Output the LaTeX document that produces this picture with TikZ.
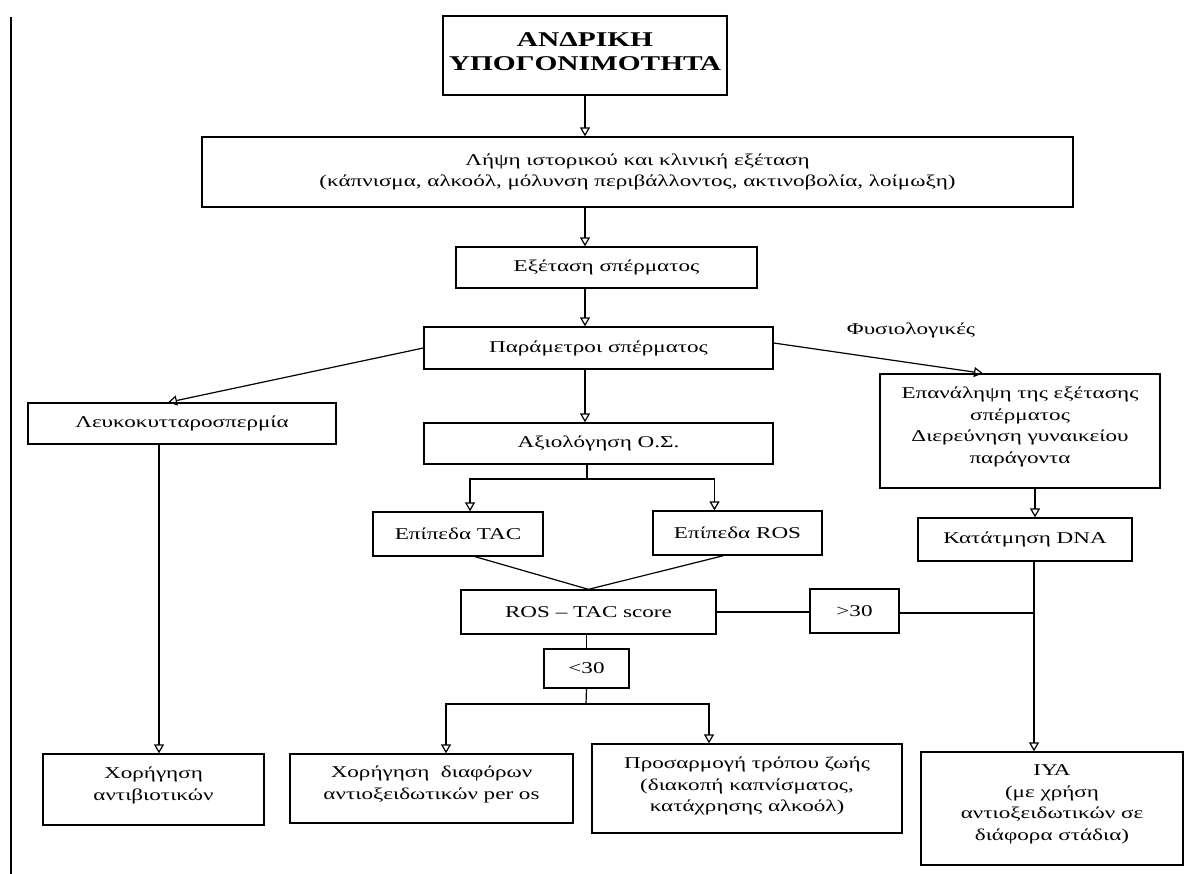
\documentclass[tikz,border=0pt]{standalone}
\usepackage{fontspec}
\setmainfont{Liberation Serif}[FakeStretch=1.4]
\usetikzlibrary{arrows.meta}
\begin{document}
\begin{tikzpicture}[x=1pt,y=-1pt,
  box/.style={draw, line width=1.3pt, inner sep=2pt, align=center, font=\fontsize{16.5}{21.5}\selectfont},
  arr/.style={line width=1.2pt, -{Triangle[open,width=10pt,length=9pt]}},
  ln/.style={line width=1.2pt},
  lbl/.style={font=\fontsize{16.5}{18}\selectfont}]
\useasboundingbox (0,0) rectangle (1185,874);
\fill[white] (0,0) rectangle (1185,874);
\draw[line width=1.2pt] (11,17) -- (11,874);

\node[box, minimum width=284, minimum height=79, font=\fontsize{21}{24}\selectfont\bfseries, text depth=8pt] (title) at (585,55.5) {ΑΝΔΡΙΚΗ\\ΥΠΟΓΟΝΙΜΟΤΗΤΑ};
\node[box, minimum width=871, minimum height=70] (hist) at (637.5,172) {Λήψη ιστορικού και κλινική εξέταση\\(κάπνισμα, αλκοόλ, μόλυνση περιβάλλοντος, ακτινοβολία, λοίμωξη)};
\node[box, minimum width=301, minimum height=41] (exam) at (606.5,267.5) {Εξέταση σπέρματος};
\node[box, minimum width=349, minimum height=42] (param) at (598.5,348) {Παράμετροι σπέρματος};
\node[box, minimum width=308, minimum height=41] (lefk) at (182,423.5) {Λευκοκυτταροσπερμία};
\node[box, minimum width=349, minimum height=41] (aks) at (598.5,443.5) {Αξιολόγηση Ο.Σ.};
\node[box, minimum width=170, minimum height=44] (tac) at (458,534) {Επίπεδα TAC};
\node[box, minimum width=169, minimum height=44] (ros) at (737.5,533) {Επίπεδα ROS};
\node[box, minimum width=280, minimum height=114, text depth=12pt] (epan) at (1020,431) {Επανάληψη της εξέτασης\\σπέρματος\\Διερεύνηση γυναικείου\\παράγοντα};
\node[box, minimum width=214, minimum height=43] (dna) at (1025,539.5) {Κατάτμηση DNA};
\node[box, minimum width=255, minimum height=44] (score) at (588.5,612) {ROS – TAC score};
\node[box, minimum width=89, minimum height=44] (gt) at (854.5,611) {>30};
\node[box, minimum width=85, minimum height=39] (lt) at (586.5,668.5) {<30};
\node[box, minimum width=221, minimum height=71, text depth=12pt] (antib) at (153.5,789.5) {Χορήγηση\\αντιβιοτικών};
\node[box, minimum width=283, minimum height=69, text depth=12pt] (ant) at (431.5,788.5) {Χορήγηση\ \ διαφόρων\\αντιοξειδωτικών per os};
\node[box, minimum width=310, minimum height=89, text depth=8pt] (lif) at (747,788.5) {Προσαρμογή τρόπου ζωής\\(διακοπή καπνίσματος,\\κατάχρησης αλκοόλ)};
\node[box, minimum width=262, minimum height=113, text depth=12pt] (iya) at (1052,808.5) {ΙΥΑ\\(με χρήση\\αντιοξειδωτικών σε\\διάφορα στάδια)};
\node[lbl] (phys) at (911,330) {Φυσιολογικές};

\draw[arr] (title.south) -- (title.south |- hist.north);
\draw[arr] (hist.south -| title.south) -- (exam.north -| title.south);
\draw[arr] (exam.south -| title.south) -- (param.north -| title.south);
\draw[arr] (param.south -| title.south) -- (aks.north -| title.south);
\draw[arr] (param.west) -- ([xshift=-14pt]lefk.north);
\draw[arr] ([yshift=5pt]param.east) -- ([xshift=-37pt]epan.north);

\coordinate (br1) at (587,479);
\draw[ln] (aks.south -| br1) -- (br1);
\draw[arr] (br1) -| ([xshift=12pt]tac.north);
\draw[arr] (br1) -| ([xshift=-23pt]ros.north);
\draw[ln] ([xshift=17pt]tac.south) -- (score.north);
\draw[ln] ([xshift=-14pt]ros.south) -- (score.north);

\draw[ln] (score.south -| lt.north) -- (lt.north);
\draw[ln] (score.east) -- (gt.west |- score.east);
\coordinate (j) at (1034,613);
\draw[ln] (gt.east |- j) -- (j);
\draw[arr] ([xshift=15pt]epan.south) -- ([xshift=15pt]epan.south |- dna.north);
\draw[arr] ([xshift=9pt]dna.south) -- ([xshift=9pt]dna.south |- iya.north);

\coordinate (br2) at (586,704);
\draw[ln] (lt.south) -- (br2);
\draw[arr] (br2) -| ([xshift=14.5pt]ant.north);
\draw[arr] (br2) -| ([xshift=-38pt]lif.north);
\draw[arr] ([xshift=-23pt]lefk.south) -- ([xshift=-23pt]lefk.south |- antib.north);
\end{tikzpicture}
\end{document}
